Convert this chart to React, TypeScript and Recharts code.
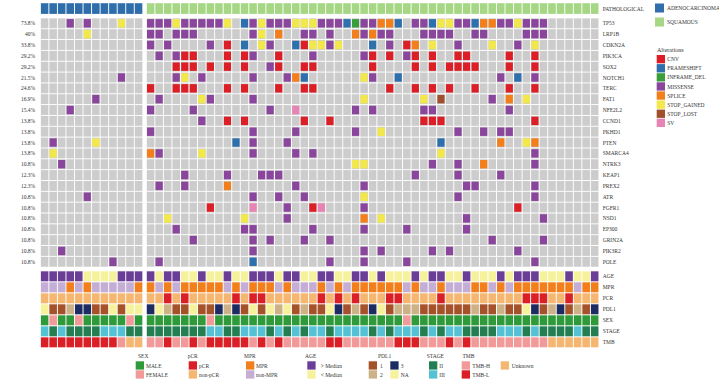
import React from 'react';
import { ScatterChart, Scatter, XAxis, YAxis } from 'recharts';

const FONT = '"Liberation Serif", "Times New Roman", serif';
const TEXT = '#333333';

// ---------- data ----------
const N_ADENO = 12;
const N_SQUAM = 53;
const PATHOLOGY_NAMES = ['ADENOCARCINOMA', 'SQUAMOUS'];
const PATHOLOGY_COLORS = ['#2f6eaa', '#a6d785'];

const GENES = ['TP53', 'LRP1B', 'CDKN2A', 'PIK3CA', 'SOX2', 'NOTCH1', 'TERC', 'FAT1', 'NFE2L2', 'CCND1', 'PKHD1', 'PTEN', 'SMARCA4', 'NTRK3', 'KEAP1', 'PREX2', 'ATR', 'FGFR1', 'NSD1', 'EP300', 'GRIN2A', 'PIK3R2', 'POLE'];
const GENE_PCT = ['73.8%', '40%', '33.8%', '29.2%', '29.2%', '21.5%', '24.6%', '16.9%', '15.4%', '13.8%', '13.8%', '13.8%', '13.8%', '10.8%', '12.3%', '12.3%', '10.8%', '10.8%', '10.8%', '10.8%', '10.8%', '10.8%', '10.8%'];

const ALT_CODES = ['C', 'F', 'I', 'M', 'P', 'S', 'L', 'V'];
const ALT_NAMES = ['CNV', 'FRAMESHIFT', 'INFRAME_DEL', 'MISSENSE', 'SPLICE', 'STOP_GAINED', 'STOP_LOST', 'SV'];
const ALT_COLORS = ['#dc1f26', '#2e6fad', '#3a9f3a', '#8a459c', '#f27f1b', '#f2e84b', '#a0502a', '#e884b4'];

// per gene: 12 adenocarcinoma samples | 53 squamous samples
const TP53 = '...M.M...S.. | MMMSMMMMMS .FMSMMMSSS MMMFIMMPPF .MMFSSMMFP PMMSMMM... ...';
const LRP1B = '.....S...... | MM.MMM.... ..MS.P..MM .M..PMPMM. ..MMMM..MM ....MMM... ...';
const CDKN2A = '............ | M.M....M.C .F.SM..FCS SMS...F.M. CP.S..M... S..M.S.... ...';
const PIK3CA = '............ | .M.MCC...C .CM..C...M .....MC.C. MC.C..CC.. ..C..C.... ...';
const SOX2 = '............ | ...CCC.C.C .C..MC..CC ......C... .C.C.CCCC. ..C..C.... ...';
const NOTCH1 = '.........M.. | ...MS.M... ..M...MPF. .....SM..F .......... .M.F.M.... ...';
const TERC = '............ | C..CCC...C .C...C..CC ........C. .C.C.C..C. ..C..C.... ...';
const FAT1 = '......M..... | .M....SM.. ..M....... .....S.... ..S.L..... M.P.S..... ...';
const NFE2L2 = '...M........ | M....M.... ....M..V.. ....M.M... ..MM...... ..M....... ...';
const CCND1 = '............ | ......M..C .C......C. .C........ ..CCC..... .....C.... ...';
const PKHD1 = '............ | M......... ..M....M.. ....M..S.. ......M..M .MM....... ...';
const PTEN = '.M....S..... | .......... F.M...M... .......... ....F..... .P..SP.... ...';
const SMARCA4 = '.S.......... | PM....S... ..M....M.M .......... ....S..... .....M.... ...';
const NTRK3 = '..M......... | .......... .......... ....SS.... ...M..M..P .....M.... ...';
const KEAP1 = '............ | ....M....M ...MMM.... .......... .M....M... .M........ ...';
const PREX2 = '............ | .M..M....P .......M.. .....M.... .......MM. .....M.... ...';
const ATR = '.....M...... | .......... ..M..M..M. .....S.... ......M... .....M.... ...';
const FGFR1 = '............ | .......C.. ..V...M..C V....M.... .......... ...C...... ...';
const NSD1 = '............ | ..S....... .S....M... .....P.S.. .......M.. ......M... ...';
const EP300 = '............ | ...M...... .MM......M .....M.... M......M.. .......... ...';
const GRIN2A = '............ | .....M.... ..M.M...M. .M........ .......... M.....M... ...';
const PIK3R2 = '..M......... | .......... ..M....... .....M.M.. ...M.M.... ...M...... ...';
const POLE = '........M... | .M........ ..F....... .M...M.... M......... .....M.... ...';
const GENE_ROWS = [TP53, LRP1B, CDKN2A, PIK3CA, SOX2, NOTCH1, TERC, FAT1, NFE2L2, CCND1, PKHD1, PTEN, SMARCA4, NTRK3, KEAP1, PREX2, ATR, FGFR1, NSD1, EP300, GRIN2A, PIK3R2, POLE];

// clinical annotations
const CLIN_NAMES = ['AGE', 'MPR', 'PCR', 'PDL1', 'SEX', 'STAGE', 'TMB'];
const AGE = 'HHHHHLLLLHHH | HLHHLLHLLH LLHHHLHHLL HHLLHHLHLL LHLHHLLHLL LHLHHHLLLH LLH';
const MPR = 'NNNMNMNNNNNM | MNMNMMMMMN MNMMMNMNNN MNMNMMMMMM NMNNMNNNMM NMNMMMMMMM NMM';
const PCR = 'NNNNNNNNNNNN | NNPNPNNNNN PNPPNNNNNN PNPNPNNNPP NNNNPNNNNN NNNNPPPNNP NNN';
const PDL1 = 'N1123311N1NN | 3N211N1132 31N1N2N121 1N31213N12 2211111121 1211N31231 213';
const SEX = 'MFMMFMMMMMFM | MMMMMMMFMM MMMMMMMMMM MMMMMMMMMM FMMMMMMMMM MMMMMMMMMM MMM';
const STAGE = '323222233322 | 2222222332 2333232323 3233332323 3323233222 2333232222 322';
const TMB = 'LLLLLLLLLHUU | HHLHHLHLLL LLHLHLHHHH HLLHHHHHHL LLHHHLHLHH HHHHHHHUUU UUU';
const CLIN_ROWS = [AGE, MPR, PCR, PDL1, SEX, STAGE, TMB];

const AGE_COLORS: Record<string, string> = { H: '#6a3d97', L: '#f6f29c' };
const MPR_COLORS: Record<string, string> = { M: '#f27f1b', N: '#c4aed6' };
const PCR_COLORS: Record<string, string> = { P: '#db1f26', N: '#f5b671' };
const PDL1_COLORS: Record<string, string> = { '1': '#a5522a', '2': '#cdb287', '3': '#1c2b62', N: '#f6f29c' };
const SEX_COLORS: Record<string, string> = { M: '#2f9a3a', F: '#f19a99' };
const STAGE_COLORS: Record<string, string> = { '2': '#237e52', '3': '#55c1d4' };
const TMB_COLORS: Record<string, string> = { H: '#f19a99', L: '#db1f26', U: '#f5b671' };
const CLIN_COLORS = [AGE_COLORS, MPR_COLORS, PCR_COLORS, PDL1_COLORS, SEX_COLORS, STAGE_COLORS, TMB_COLORS];

const LEGEND_GROUPS = [
  { title: 'SEX', cols: [[['MALE', SEX_COLORS.M], ['FEMALE', SEX_COLORS.F]]] },
  { title: 'pCR', cols: [[['pCR', PCR_COLORS.P], ['non-pCR', PCR_COLORS.N]]] },
  { title: 'MPR', cols: [[['MPR', MPR_COLORS.M], ['non-MPR', MPR_COLORS.N]]] },
  { title: 'AGE', cols: [[['> Median', AGE_COLORS.H], ['< Median', AGE_COLORS.L]]] },
  { title: 'PDL1', cols: [[['1', PDL1_COLORS['1']], ['2', PDL1_COLORS['2']]], [['3', PDL1_COLORS['3']], ['NA', PDL1_COLORS.N]]] },
  { title: 'STAGE', cols: [[['II', STAGE_COLORS['2']], ['III', STAGE_COLORS['3']]]] },
  { title: 'TMB', cols: [[['TMB-H', TMB_COLORS.H], ['TMB-L', TMB_COLORS.L]], [['Unknown', TMB_COLORS.U]]] },
];

// ---------- layout ----------
const W = 719;
const H = 384;
const GROUP_GAP = 0.41; // column units between the two pathology groups
const HEADER_POS = -1.36;
const CLIN_START = 23.34;
const CLIN_STEP = 1.015;
const X_DOMAIN: [number, number] = [-0.5, N_ADENO + N_SQUAM - 1 + GROUP_GAP + 0.5];
const Y_DOMAIN: [number, number] = [-2, 30];
const LEFT_W = 40.33;
const RIGHT_W = 120.04;
const MARGIN = { top: 1.62, right: 0, bottom: 35.5, left: 0 };

const clean = (s: string) => s.replace(/[\s|]/g, '');
const colPos = (i: number) => (i < N_ADENO ? i : i + GROUP_GAP);
const clinPos = (i: number) => CLIN_START + i * CLIN_STEP;

const headerData = Array.from({ length: N_ADENO + N_SQUAM }, (_, i) => ({
  x: colPos(i),
  y: HEADER_POS,
  fill: PATHOLOGY_COLORS[i < N_ADENO ? 0 : 1],
}));

const bgData: any[] = [];
const mutData: any[] = [];
GENE_ROWS.forEach((row, r) => {
  clean(row).split('').forEach((c, i) => {
    bgData.push({ x: colPos(i), y: r, fill: '#cccccc' });
    const k = ALT_CODES.indexOf(c);
    if (k >= 0) mutData.push({ x: colPos(i), y: r, fill: ALT_COLORS[k] });
  });
});

const clinData: any[] = [];
CLIN_ROWS.forEach((row, r) => {
  clean(row).split('').forEach((c, i) => {
    clinData.push({ x: colPos(i), y: clinPos(r), fill: CLIN_COLORS[r][c] });
  });
});

const leftTicks = GENES.map((_, i) => i);
const rightTicks = [HEADER_POS, ...GENES.map((_, i) => i), ...CLIN_NAMES.map((_, i) => clinPos(i))];
const rightLabels = ['PATHOLOGICAL', ...GENES, ...CLIN_NAMES];

const cellShape = (w: number, h: number) => (p: any) => (
  <rect x={p.cx - w / 2} y={p.cy - h / 2} width={w} height={h} fill={p.payload.fill} />
);

const LeftTick = (p: any) => {
  const idx = leftTicks.findIndex((t) => Math.abs(t - p.payload.value) < 1e-6);
  return (
    <text x={35.2} y={p.y} textAnchor="end" dominantBaseline="central" fontSize={5.5} fontFamily={FONT} fill={TEXT}>
      {GENE_PCT[idx]}
    </text>
  );
};

const RightTick = (p: any) => {
  const idx = rightTicks.findIndex((t) => Math.abs(t - p.payload.value) < 1e-6);
  return (
    <text x={602.7} y={p.y} textAnchor="start" dominantBaseline="central" fontSize={5.5} fontFamily={FONT} fill={TEXT}>
      {rightLabels[idx]}
    </text>
  );
};

const BOTTOM_LAYOUT = [
  { tx: 138, cols: [[135.7, 146]] },
  { tx: 187.7, cols: [[188.7, 199]] },
  { tx: 244, cols: [[246, 256]] },
  { tx: 305, cols: [[307.3, 320.7]] },
  { tx: 378, cols: [[368.7, 380], [390.3, 400.7]] },
  { tx: 426.7, cols: [[429, 439.3]] },
  { tx: 462.5, cols: [[461.7, 472.3], [500.7, 511.7]] },
];

const Legends = () => (
  <svg width={W} height={H} style={{ position: 'absolute', left: 0, top: 0, pointerEvents: 'none' }}>
    {PATHOLOGY_NAMES.map((n, i) => (
      <g key={n}>
        <rect x={655} y={3.5 + i * 14} width={9} height={9} fill={PATHOLOGY_COLORS[i]} />
        <text x={667} y={8 + i * 14} dominantBaseline="central" fontSize={5.5} fontFamily={FONT} fill={TEXT}>{n}</text>
      </g>
    ))}
    <text x={657} y={50} dominantBaseline="central" fontSize={6} fontFamily={FONT} fill={TEXT}>Alterations</text>
    {ALT_NAMES.map((n, i) => (
      <g key={n}>
        <rect x={656.7} y={55 + i * 9.1} width={8.3} height={8.3} fill={ALT_COLORS[i]} />
        <text x={667.3} y={59.2 + i * 9.1} dominantBaseline="central" fontSize={5.5} fontFamily={FONT} fill={TEXT}>{n}</text>
      </g>
    ))}
    {LEGEND_GROUPS.map((g, gi) => (
      <g key={g.title}>
        <text x={BOTTOM_LAYOUT[gi].tx} y={355.5} dominantBaseline="central" fontSize={5.5} fontFamily={FONT} fill={TEXT}>{g.title}</text>
        {g.cols.map((col, ci) =>
          col.map(([label, color], ri) => (
            <g key={label}>
              <rect x={BOTTOM_LAYOUT[gi].cols[ci][0]} y={361.3 + ri * 9} width={8.3} height={8.3} fill={color} />
              <text x={BOTTOM_LAYOUT[gi].cols[ci][1]} y={365.5 + ri * 9} dominantBaseline="central" fontSize={5.5} fontFamily={FONT} fill={TEXT}>{label}</text>
            </g>
          ))
        )}
      </g>
    ))}
  </svg>
);

export default function App() {
  return (
    <div style={{ position: 'fixed', left: 0, top: 0, width: W, height: H, background: '#ffffff' }}>
      <ScatterChart width={W} height={H} margin={MARGIN}>
        <XAxis type="number" dataKey="x" domain={X_DOMAIN} hide allowDataOverflow />
        <YAxis yAxisId="L" type="number" dataKey="y" domain={Y_DOMAIN} reversed orientation="left" width={LEFT_W}
          ticks={leftTicks} interval={0} tick={<LeftTick />} axisLine={false} tickLine={false} allowDataOverflow />
        <YAxis yAxisId="R" type="number" dataKey="y" domain={Y_DOMAIN} reversed orientation="right" width={RIGHT_W}
          ticks={rightTicks} interval={0} tick={<RightTick />} axisLine={false} tickLine={false} allowDataOverflow />
        <Scatter yAxisId="R" data={headerData} shape={cellShape(7.6, 10.7)} isAnimationActive={false} />
        <Scatter yAxisId="L" data={bgData} shape={cellShape(7.6, 9.9)} isAnimationActive={false} />
        <Scatter yAxisId="L" data={mutData} shape={cellShape(7.2, 8.4)} isAnimationActive={false} />
        <Scatter yAxisId="R" data={clinData} shape={cellShape(7.6, 10)} isAnimationActive={false} />
      </ScatterChart>
      <Legends />
    </div>
  );
}
